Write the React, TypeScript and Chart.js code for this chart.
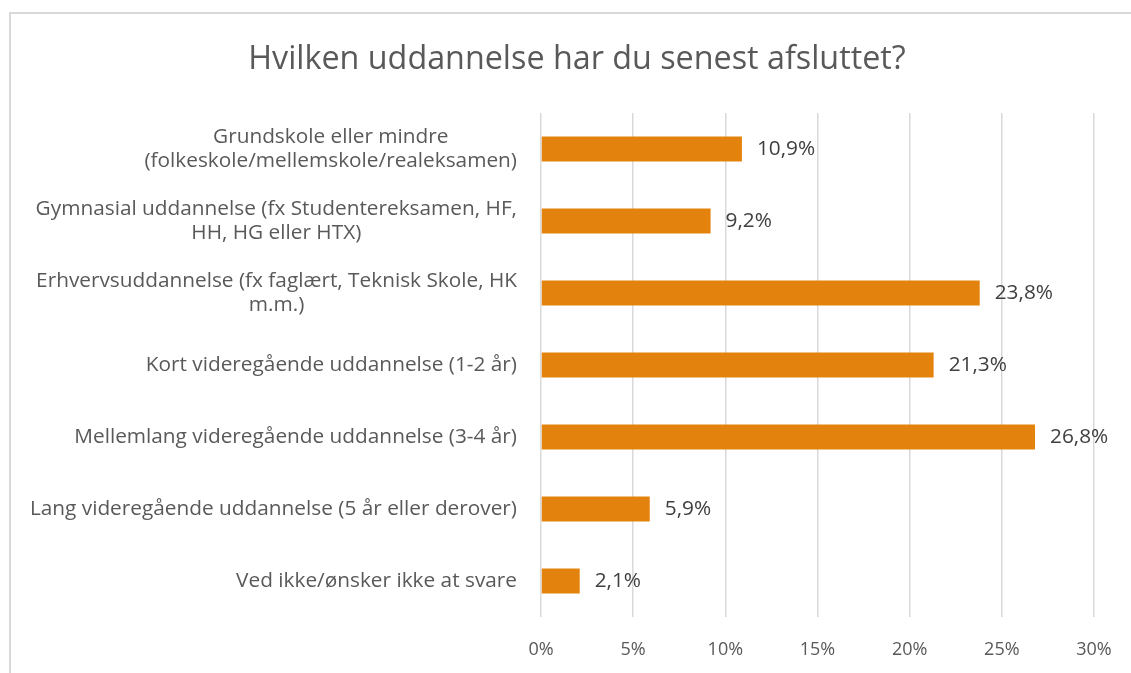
import React, { useEffect, useRef } from "react";
import { Chart, registerables } from "chart.js";

Chart.register(...registerables);

const titleText = "Hvilken uddannelse har du senest afsluttet?";

const categories: (string | string[])[] = [
  ["Grundskole eller mindre", "(folkeskole/mellemskole/realeksamen)"],
  ["Gymnasial uddannelse (fx Studentereksamen, HF,", "HH, HG eller HTX)"],
  ["Erhvervsuddannelse (fx faglært, Teknisk Skole, HK", "m.m.)"],
  "Kort videregående uddannelse (1-2 år)",
  "Mellemlang videregående uddannelse (3-4 år)",
  "Lang videregående uddannelse (5 år eller derover)",
  "Ved ikke/ønsker ikke at svare",
];

const values = [10.9, 9.2, 23.8, 21.3, 26.8, 5.9, 2.1];

const tickValues = [0, 5, 10, 15, 20, 25, 30];

const FONT = "'Open Sans', sans-serif";
const LABEL_SIZE = 20.8;
const VALUE_SIZE = 20.8;

const titlePlugin = {
  id: "customTitle",
  afterDraw(chart: any) {
    const ctx = chart.ctx;
    ctx.save();
    ctx.font = `32.3px ${FONT}`;
    ctx.fillStyle = "#595959";
    ctx.textBaseline = "middle";
    ctx.textAlign = "center";
    ctx.fillText(titleText, 577, 60);
    ctx.restore();
  },
};

const categoryLabelPlugin = {
  id: "categoryLabels",
  afterDraw(chart: any) {
    const ctx = chart.ctx;
    const yScale = chart.scales.y;
    const right = chart.chartArea.left - 24;
    const lineH = 24;
    ctx.save();
    ctx.font = `${LABEL_SIZE}px ${FONT}`;
    ctx.fillStyle = "#595959";
    ctx.textBaseline = "middle";
    ctx.textAlign = "center";
    (chart.data.labels as (string | string[])[]).forEach((lab, i) => {
      const lines = Array.isArray(lab) ? lab : [lab];
      const w = Math.max(...lines.map((l) => ctx.measureText(l).width));
      const cx = right - w / 2;
      const cy = yScale.getPixelForTick(i);
      const start = cy - ((lines.length - 1) * lineH) / 2;
      lines.forEach((l, j) => ctx.fillText(l, cx, start + j * lineH));
    });
    ctx.restore();
  },
};

const valueLabelPlugin = {
  id: "valueLabels",
  afterDatasetsDraw(chart: any) {
    const ctx = chart.ctx;
    const meta = chart.getDatasetMeta(0);
    ctx.save();
    ctx.font = `${VALUE_SIZE}px ${FONT}`;
    ctx.fillStyle = "#404040";
    ctx.textBaseline = "middle";
    ctx.textAlign = "left";
    meta.data.forEach((bar: any, i: number) => {
      const v = chart.data.datasets[0].data[i] as number;
      ctx.fillText(v.toFixed(1).replace(".", ",") + "%", bar.x + 15, bar.y);
    });
    ctx.restore();
  },
};

export default function App() {
  const ref = useRef<HTMLCanvasElement>(null);
  useEffect(() => {
    if (!ref.current) return;
    const chart = new Chart(ref.current, {
      type: "bar",
      data: {
        labels: categories as any,
        datasets: [
          {
            data: values,
            backgroundColor: "#E3830D",
            borderWidth: 0,
            barPercentage: 0.35,
            categoryPercentage: 1,
          },
        ],
      },
      options: {
        indexAxis: "y",
        responsive: false,
        animation: false,
        layout: { padding: { left: 541, right: 37, top: 113, bottom: 0 } },
        plugins: {
          legend: { display: false },
          tooltip: { enabled: false },
          title: { display: false },
        },
        scales: {
          x: {
            min: 0,
            max: 30,
            afterBuildTicks: (s: any) => {
              s.ticks = tickValues.map((v) => ({ value: v }));
            },
            afterFit: (s: any) => {
              s.height = 56;
              s.paddingLeft = 0;
              s.paddingRight = 0;
            },
            ticks: {
              callback: (v: any) => v + "%",
              color: "#595959",
              font: { family: FONT, size: 18 },
              padding: 22,
            },
            grid: { color: "#d9d9d9", lineWidth: 1.5, drawTicks: false },
            border: { display: false },
          },
          y: {
            ticks: { display: false },
            afterFit: (s: any) => {
              s.width = 0;
            },
            grid: { display: false },
            border: { display: false },
          },
        },
      },
      plugins: [titlePlugin, categoryLabelPlugin, valueLabelPlugin],
    });
    return () => chart.destroy();
  }, []);
  return (
    <div
      style={{
        position: "fixed",
        left: 0,
        top: 0,
        width: 1131,
        height: 673,
        overflow: "hidden",
        background: "#fff",
      }}
    >
      <div
        style={{
          position: "absolute",
          left: 9,
          top: 12,
          width: 1200,
          height: 800,
          border: "2px solid #d9d9d9",
          pointerEvents: "none",
        }}
      />
      <canvas ref={ref} width={1131} height={673} style={{ position: "absolute", left: 0, top: 0 }} />
    </div>
  );
}
